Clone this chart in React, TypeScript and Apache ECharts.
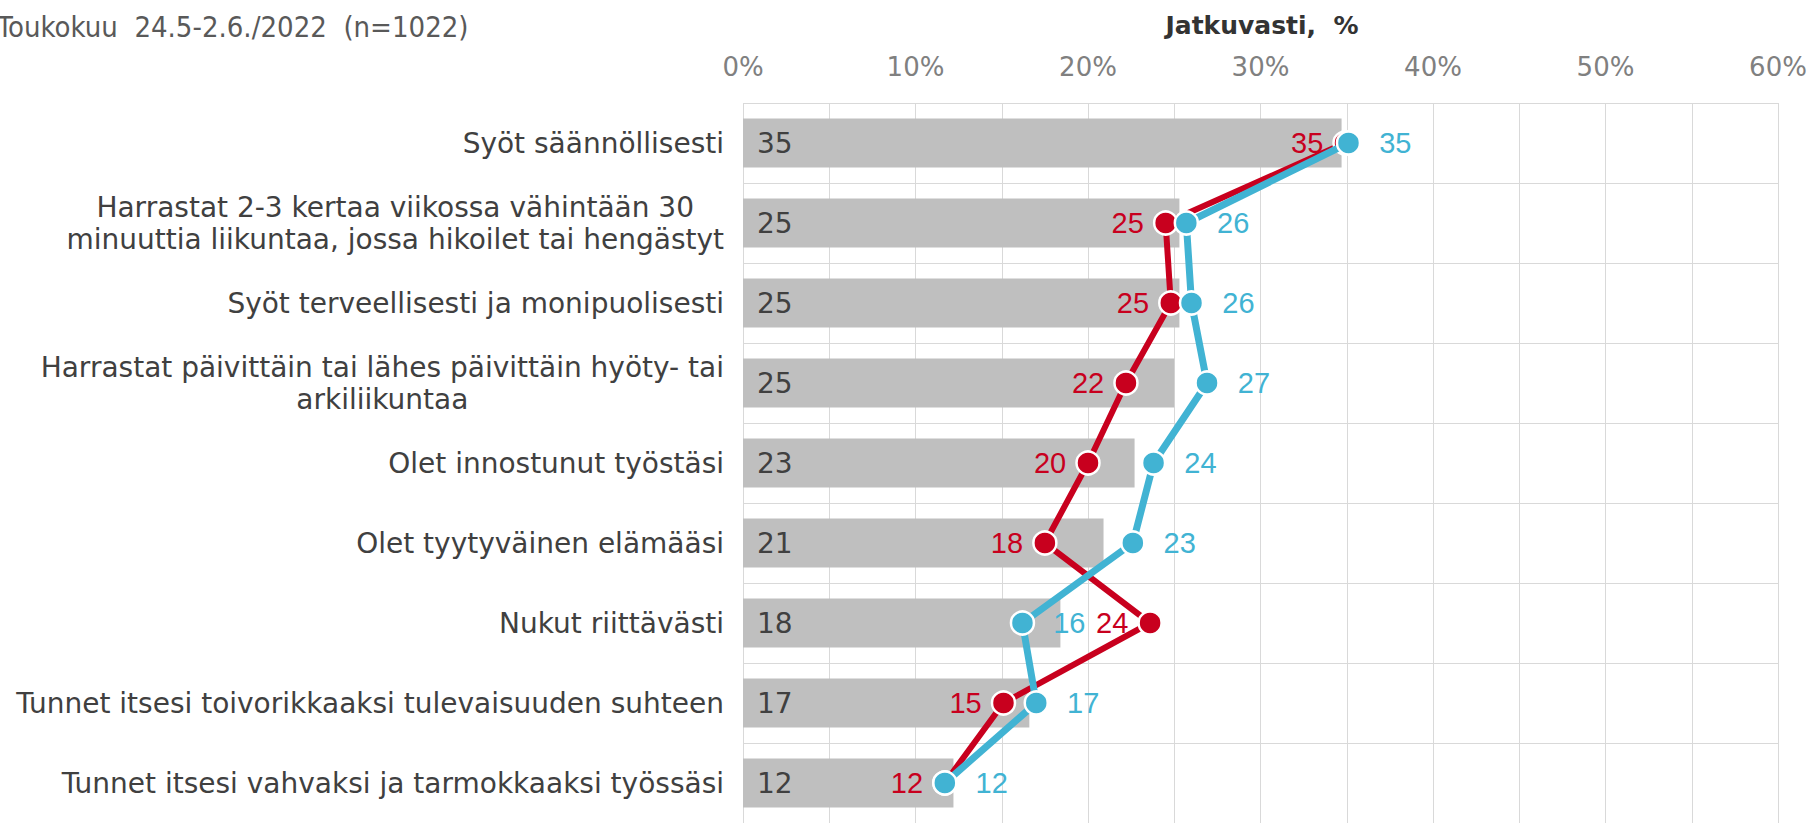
import React, { useEffect, useRef } from "react";
import * as echarts from "echarts";

const categories = [
  "Syöt säännöllisesti",
  "Harrastat 2-3 kertaa viikossa vähintään 30\nminuuttia liikuntaa, jossa hikoilet tai hengästyt",
  "Syöt terveellisesti ja monipuolisesti",
  "Harrastat päivittäin tai lähes päivittäin hyöty- tai\narkiliikuntaa",
  "Olet innostunut työstäsi",
  "Olet tyytyväinen elämääsi",
  "Nukut riittävästi",
  "Tunnet itsesi toivorikkaaksi tulevaisuuden suhteen",
  "Tunnet itsesi vahvaksi ja tarmokkaaksi työssäsi",
];
const barValues = [34.7, 25.3, 25.3, 25.0, 22.7, 20.9, 18.4, 16.6, 12.2];
const redValues = [34.9, 24.5, 24.8, 22.2, 20.0, 17.5, 23.6, 15.1, 11.7];
const blueValues = [35.1, 25.7, 26.0, 26.9, 23.8, 22.6, 16.2, 17.0, 11.7];
const xTicks = [0, 10, 20, 30, 40, 50, 60];

const COND = "'DejaVu Sans Condensed', 'DejaVu Sans', sans-serif";
const REG = "'DejaVu Sans', sans-serif";
const ARIAL = "'Liberation Sans', Arial, sans-serif";
const RED = "#C8001E";
const BLUE = "#41B3D3";

export default function App() {
  const ref = useRef<HTMLDivElement>(null);
  useEffect(() => {
    document.body.style.margin = "0";
    const chart = echarts.init(ref.current!, null, { renderer: "svg" });
    chart.setOption({
      animation: false,
      backgroundColor: "#ffffff",
      graphic: [
        {
          type: "text",
          x: -3,
          y: 27,
          style: {
            text: "Toukokuu  24.5-2.6./2022  (n=1022)",
            fill: "#595959",
            font: `29px ${COND}`,
            textAlign: "left",
            textVerticalAlign: "middle",
          },
        },
        {
          type: "text",
          x: 1262,
          y: 25,
          style: {
            text: "Jatkuvasti,  %",
            fill: "#333333",
            font: `bold 25px ${REG}`,
            textAlign: "center",
            textVerticalAlign: "middle",
          },
        },
      ],
      grid: { left: 743, right: 33, top: 103, height: 725 },
      xAxis: {
        type: "value",
        position: "top",
        min: 0,
        max: 60,
        interval: 5,
        axisLine: { show: false },
        axisTick: { show: false },
        axisLabel: {
          formatter: (v: number) => (xTicks.includes(v) ? `${v}%` : ""),
          color: "#808080",
          fontSize: 26,
          fontFamily: REG,
          margin: 23,
        },
        splitLine: { show: true, lineStyle: { color: "#D9D9D9", width: 1 } },
      },
      yAxis: {
        type: "category",
        inverse: true,
        data: categories,
        axisLine: { show: false },
        axisTick: { show: false },
        splitLine: { show: true, lineStyle: { color: "#D9D9D9", width: 1 } },
        axisLabel: {
          margin: 19,
          formatter: (v: string) =>
            v
              .split("\n")
              .map((l) => `{c|${l}}`)
              .join("\n"),
          rich: {
            c: {
              align: "center",
              fontSize: 28,
              fontFamily: REG,
              color: "#404040",
              lineHeight: 32,
            },
          },
        },
      },
      series: [
        {
          type: "bar",
          data: barValues,
          barWidth: "61%",
          itemStyle: { color: "#BFBFBF" },
          label: {
            show: true,
            position: "insideLeft",
            distance: 14,
            formatter: (p: any) => `${Math.round(p.value)}`,
            color: "#404040",
            fontSize: 28,
            fontFamily: REG,
          },
          z: 1,
        },
        {
          type: "line",
          data: redValues,
          symbol: "circle",
          symbolSize: 23,
          lineStyle: { color: RED, width: 6 },
          itemStyle: { color: RED, borderColor: "#ffffff", borderWidth: 2.5 },
          label: {
            show: true,
            position: "left",
            distance: 9,
            formatter: (p: any) => `${Math.round(p.value)}`,
            color: RED,
            fontSize: 29,
            fontFamily: ARIAL,
          },
          z: 3,
        },
        {
          type: "line",
          data: blueValues,
          symbol: "circle",
          symbolSize: 23,
          lineStyle: { color: BLUE, width: 7 },
          itemStyle: { color: BLUE, borderColor: "#ffffff", borderWidth: 2.5 },
          label: {
            show: true,
            position: "right",
            distance: 18,
            formatter: (p: any) => `${Math.round(p.value)}`,
            color: BLUE,
            fontSize: 29,
            fontFamily: ARIAL,
          },
          z: 4,
        },
      ],
    });
    return () => chart.dispose();
  }, []);
  return (
    <div
      ref={ref}
      style={{ position: "fixed", left: 0, top: 0, width: 1811, height: 823 }}
    />
  );
}
